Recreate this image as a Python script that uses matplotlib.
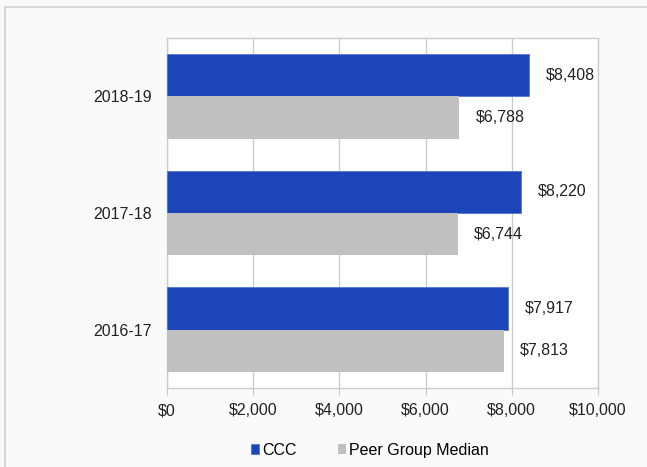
import numpy as np
import matplotlib.pyplot as plt
from matplotlib.patches import Rectangle

years = ["2016-17", "2017-18", "2018-19"]
ccc = [7917, 8220, 8408]
peer = [7813, 6744, 6788]
ticks = [0, 2000, 4000, 6000, 8000, 10000]

blue = "#1c45b9"
gray = "#c0c0c0"

plt.rcParams['font.family'] = ['Liberation Sans', 'DejaVu Sans']

fig = plt.figure(figsize=(6.47, 4.67), dpi=100)
fig.patch.set_facecolor("#fafafa")
# light frame round the chart (left/top edges visible)
fig.patches.append(Rectangle((5 / 647, -0.1), 1.2, 1 - 7 / 467 + 0.1,
                             transform=fig.transFigure, fill=False,
                             edgecolor="#d0d0d0", linewidth=1.2))

ax = fig.add_axes([0.2577, 0.1692, 0.6666, 0.7494])
ax.set_facecolor("white")

y = np.arange(len(years))
h = 0.364
ax.barh(y + h / 2, ccc, height=h, color=blue, edgecolor="#5577cc",
        linewidth=0.6, label="CCC", zorder=3)
ax.barh(y - h / 2, peer, height=h, color=gray, label="Peer Group Median",
        zorder=3)

for i in range(len(years)):
    ax.annotate(f"${ccc[i]:,}", (ccc[i], y[i] + h / 2), xytext=(12, 0),
                textcoords="offset points", ha="left", va="center",
                fontsize=11.5, color="#222222")
    ax.annotate(f"${peer[i]:,}", (peer[i], y[i] - h / 2), xytext=(12, 0),
                textcoords="offset points", ha="left", va="center",
                fontsize=11.5, color="#222222")

ax.set_xlim(0, 10000)
ax.set_ylim(-0.5, len(years) - 0.5)
ax.set_xticks(ticks)
ax.set_xticklabels([f"${t:,}" for t in ticks], fontsize=11.5, color="#222222")
ax.set_yticks(y)
ax.set_yticklabels(years, fontsize=11.5, color="#222222")
ax.tick_params(axis="x", length=5, color="#c8c8c8", pad=6)
ax.tick_params(axis="y", length=0, pad=11)
ax.grid(axis="x", color="#cccccc", linewidth=1, zorder=0)
for s in ax.spines.values():
    s.set_color("#cccccc")
    s.set_linewidth(1)

fig.legend(loc="center", bbox_to_anchor=(0.572, 0.036), ncol=2, frameon=False,
           fontsize=11.5, handlelength=0.5, handleheight=0.5,
           handletextpad=0.2, columnspacing=2.6)

plt.savefig("out.png", dpi=100, facecolor=fig.get_facecolor())
